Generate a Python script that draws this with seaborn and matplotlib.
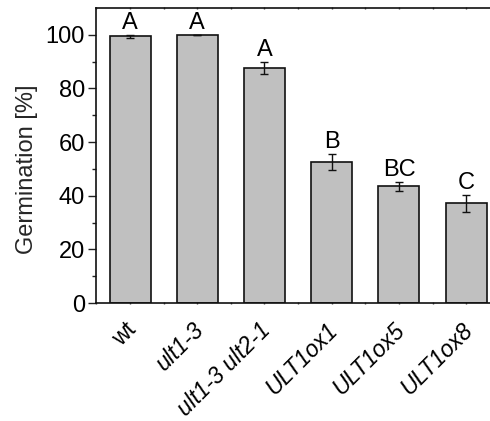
import matplotlib
matplotlib.use("Agg")
import matplotlib.pyplot as plt
import matplotlib.transforms as mtransforms
from matplotlib.ticker import FixedLocator
import seaborn as sns
import pandas as pd

genotypes = ["wt", "ult1-3", "ult1-3 ult2-1", "ULT1ox1", "ULT1ox5", "ULT1ox8"]
germination = [99.4, 100.0, 87.6, 52.7, 43.5, 37.2]
errors = [0.5, 0.0, 2.2, 3.0, 1.8, 3.2]
letters = ["A", "A", "A", "B", "BC", "C"]
italic_labels = [False, True, True, True, True, True]

sns.set_style("ticks")
plt.rcParams["font.family"] = ["Liberation Sans", "DejaVu Sans"]

df = pd.DataFrame({"genotype": genotypes, "germination": germination})

fig = plt.figure(figsize=(4.9, 4.21), dpi=100)
ax = fig.add_axes([96 / 490, (421 - 303) / 421, 1 - 96 / 490, (303 - 8) / 421])

sns.barplot(data=df, x="genotype", y="germination", color="#c0c0c0",
            saturation=1, edgecolor="#111111", linewidth=1.2, width=0.61,
            errorbar=None, ax=ax)

xs = list(range(len(genotypes)))
ax.errorbar(xs, germination, yerr=errors, fmt="none", ecolor="#111111",
            elinewidth=1.0, capsize=3.2, capthick=1.0)

for x, v, e, t in zip(xs, germination, errors, letters):
    ax.text(x, v + e + 2.2, t, ha="center", va="baseline", fontsize=17,
            color="black")

ax.set_xlim(-0.506, 5.354)
ax.set_ylim(0, 110)
ax.yaxis.set_major_locator(FixedLocator([0, 20, 40, 60, 80, 100]))
ax.yaxis.set_minor_locator(FixedLocator([10, 30, 50, 70, 90]))
ax.xaxis.set_minor_locator(FixedLocator([i + 0.5 for i in range(-1, 6)]))

ax.tick_params(axis="y", which="major", length=6, width=1.0, direction="out",
               labelsize=17, pad=2, colors="#222222", labelcolor="black")
ax.tick_params(axis="y", which="minor", length=3, width=1.0, direction="out",
               colors="#222222")
ax.tick_params(axis="x", which="both", length=2, width=1.0, direction="inout",
               top=True, labelsize=16.5, pad=4, colors="#444444",
               labelcolor="black")

ax.set_xlabel("")
ax.set_ylabel("Germination [%]", fontsize=17)
ax.yaxis.set_label_coords((38 - 96) / 394, 50 / 110)

offset = mtransforms.ScaledTranslation(-4 / 72, -6 / 72, fig.dpi_scale_trans)
ax.set_xticks(xs)
ticklabels = ax.set_xticklabels(genotypes, rotation=45, ha="right", va="top",
                                rotation_mode="anchor")
for lab, it in zip(ticklabels, italic_labels):
    if it:
        lab.set_fontstyle("italic")
    lab.set_transform(lab.get_transform() + offset)

for side in ["left", "bottom", "top"]:
    ax.spines[side].set_linewidth(1.2)
    ax.spines[side].set_color("#111111")
ax.spines["right"].set_visible(False)

fig.savefig("out.png", dpi=100)
